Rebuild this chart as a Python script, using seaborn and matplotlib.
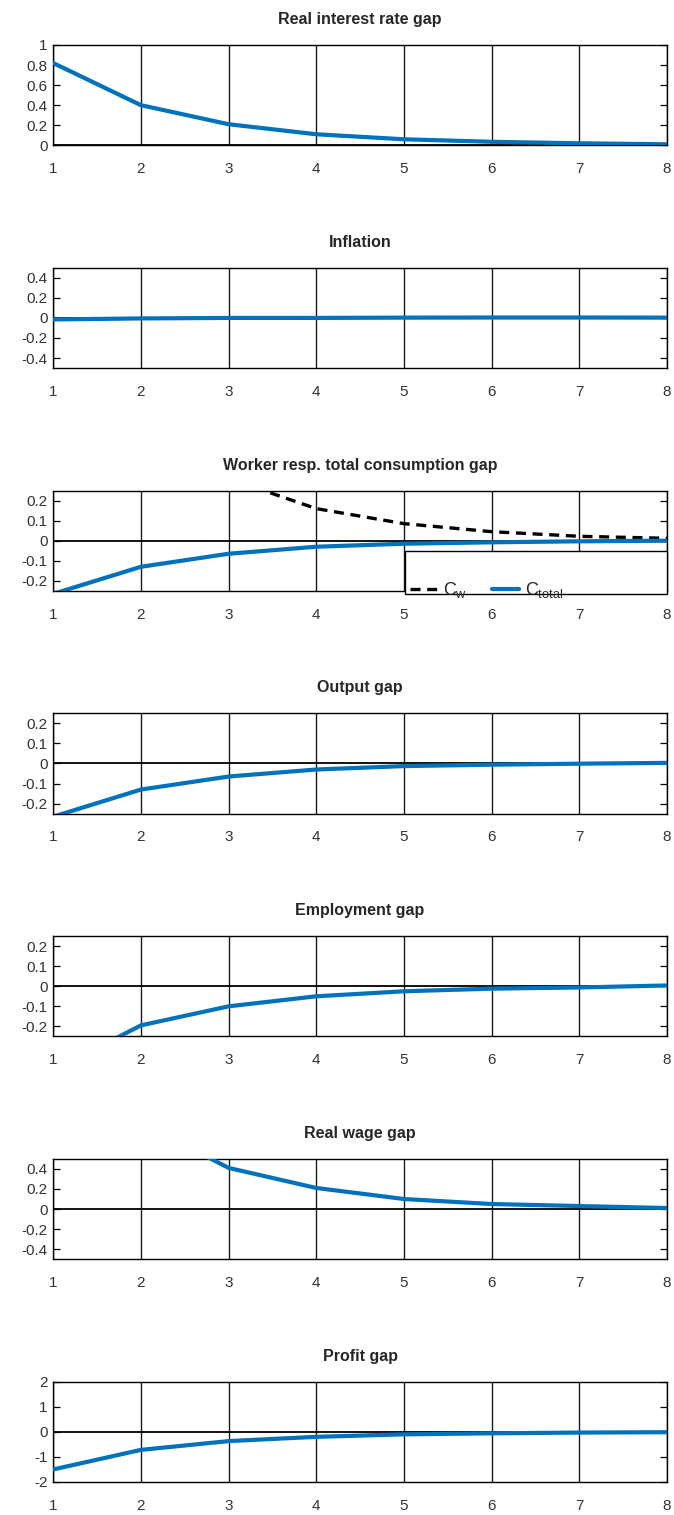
# impulse responses, seven stacked panels
import numpy as np
import pandas as pd
import matplotlib
matplotlib.use("Agg")
import matplotlib.pyplot as plt
import seaborn as sns
from matplotlib.patches import Rectangle
from matplotlib.ticker import FuncFormatter

periods = [1, 2, 3, 4, 5, 6, 7, 8]
rate_gap = [0.82, 0.40, 0.21, 0.11, 0.06, 0.035, 0.02, 0.01]
inflation = [-0.015, -0.005, 0.0, 0.0, 0.003, 0.004, 0.004, 0.003]
c_w = [1.10, 0.58, 0.31, 0.16, 0.085, 0.045, 0.022, 0.012]
c_total = [-0.265, -0.13, -0.065, -0.03, -0.015, -0.008, -0.003, 0.0]
output_gap = [-0.265, -0.13, -0.065, -0.03, -0.013, -0.006, -0.001, 0.003]
employment_gap = [-0.42, -0.195, -0.10, -0.05, -0.025, -0.012, -0.006, 0.004]
real_wage_gap = [1.8, 0.86, 0.41, 0.21, 0.10, 0.05, 0.03, 0.01]
profit_gap = [-1.5, -0.72, -0.37, -0.2, -0.1, -0.06, -0.03, -0.015]

titles = ["Real interest rate gap", "Inflation",
          "Worker resp. total consumption gap", "Output gap",
          "Employment gap", "Real wage gap", "Profit gap"]
series = [rate_gap, inflation, c_total, output_gap,
          employment_gap, real_wage_gap, profit_gap]
ylims = [(0, 1), (-0.5, 0.5), (-0.25, 0.25), (-0.25, 0.25),
         (-0.25, 0.25), (-0.5, 0.5), (-2, 2)]
yticks = [[0, 0.2, 0.4, 0.6, 0.8, 1],
          [-0.4, -0.2, 0, 0.2, 0.4],
          [-0.2, -0.1, 0, 0.1, 0.2],
          [-0.2, -0.1, 0, 0.1, 0.2],
          [-0.2, -0.1, 0, 0.1, 0.2],
          [-0.4, -0.2, 0, 0.2, 0.4],
          [-2, -1, 0, 1, 2]]

BLUE = "#0072BD"

sns.set_style("white")
plt.rcParams["font.family"] = ["Liberation Sans", "DejaVu Sans"]
plt.rcParams["mathtext.fontset"] = "custom"
plt.rcParams["mathtext.rm"] = "Liberation Sans"
plt.rcParams["mathtext.it"] = "Liberation Sans"
plt.rcParams["axes.unicode_minus"] = False

fig, axs = plt.subplots(7, 1, figsize=(6.74, 15.15), dpi=100)
fig.subplots_adjust(left=0.079, right=0.9896, top=0.9703,
                    bottom=0.0218, hspace=1.221)

for i, ax in enumerate(axs):
    # vertical grid and zero line
    for p in periods:
        ax.axvline(p, color="#1a1a1a", lw=1.0, zorder=1)
    ax.axhline(0, color="black", lw=1.3, zorder=1)

    if i == 2:
        sns.lineplot(x=periods, y=c_w, ax=ax, color="black", lw=2.4,
                     linestyle=(0, (3, 2)), label="$C_w$", zorder=3)
    sns.lineplot(x=periods, y=series[i], ax=ax, color=BLUE, lw=3.0,
                 label="$C_{total}$" if i == 2 else None, zorder=3)

    ax.set_xlim(1, 8)
    ax.set_ylim(*ylims[i])
    ax.set_xticks(periods)
    ax.set_yticks(yticks[i])
    ax.yaxis.set_major_formatter(FuncFormatter(lambda v, _: "%g" % v))
    ax.set_title(titles[i], fontsize=11.5, fontweight="bold", pad=15)
    ax.tick_params(axis="y", direction="in", left=True, right=True,
                   length=5, width=0.9, labelsize=11, pad=4,
                   labelcolor="#333333", color="black")
    ax.tick_params(axis="x", direction="in", bottom=True, top=False,
                   length=0, labelsize=11, pad=12, labelcolor="#333333")
    for s in ax.spines.values():
        s.set_color("black")
        s.set_linewidth(1.0)
    ax.set_xlabel("")
    ax.set_ylabel("")

    if i == 2:
        # legend box below the zero line, octave style
        box = Rectangle((0.573, -0.03), 0.427, 0.425,
                        transform=ax.transAxes, facecolor="white",
                        edgecolor="black", lw=1.0, clip_on=False, zorder=4)
        ax.add_patch(box)
        leg = ax.legend(loc="lower left", bbox_to_anchor=(0.573, -0.15),
                        ncol=2, frameon=False, fontsize=13,
                        borderaxespad=0, borderpad=0.3,
                        handlelength=1.5, handletextpad=0.3,
                        columnspacing=1.4)
        leg.set_zorder(5)
    elif ax.get_legend() is not None:
        ax.get_legend().remove()

fig.savefig("out.png", dpi=100)
